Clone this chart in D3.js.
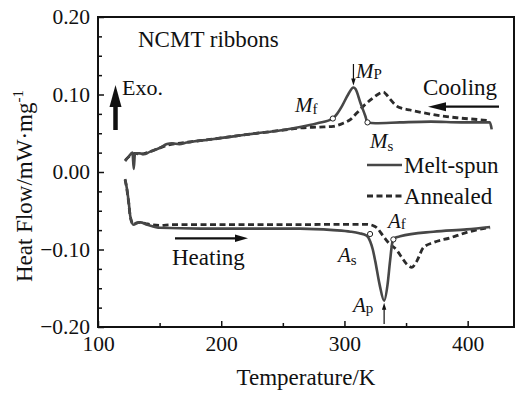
<!DOCTYPE html>
<html>
<head>
<meta charset="utf-8">
<script src="https://cdn.jsdelivr.net/npm/d3@7"></script>
<style>
  body { margin: 0; background: #fff; }
  svg { display: block; }
  text { font-family: "Liberation Serif", "Times New Roman", serif; fill: #111; }
</style>
</head>
<body>
<svg id="chart" width="517" height="393"></svg>
<script>
// axis ticks
const xTicks = [100, 200, 300, 400];
const xMinor = [150, 250, 350];
const yTicks = [-0.2, -0.1, 0, 0.1, 0.2];
const yMinor = [-0.175, -0.15, -0.125, -0.075, -0.05, -0.025, 0.025, 0.05, 0.075, 0.125, 0.15, 0.175];

const seriesNames = ["Melt-spun", "Annealed"];

// [temperature K, heat flow mW/mg]
const meltCooling = [
  [122, 0.014], [125, 0.020], [128, 0.025], [129, 0.004], [130, 0.024], [134, 0.024],
  [137, 0.023], [142, 0.026], [150, 0.031], [156, 0.036], [160, 0.037], [166, 0.036],
  [172, 0.038], [191, 0.042], [210, 0.046], [229, 0.050], [245, 0.053], [264, 0.058],
  [278, 0.063], [290.6, 0.069], [294, 0.075], [298, 0.085], [303, 0.100], [307.3, 0.109],
  [309, 0.107], [313, 0.089], [317, 0.072], [318.7, 0.064], [325, 0.063], [345, 0.064],
  [370, 0.065], [395, 0.064], [410, 0.064], [418, 0.064], [419.5, 0.055]
];
const annealCooling = [
  [122, 0.015], [126, 0.021], [130, 0.024], [135, 0.023], [142, 0.026], [150, 0.031],
  [157, 0.035], [165, 0.037], [175, 0.039], [191, 0.042], [210, 0.046], [229, 0.050],
  [250, 0.054], [265, 0.057], [280, 0.058], [291, 0.059], [299, 0.063], [305, 0.068],
  [310, 0.076], [315.4, 0.085], [323.5, 0.096], [328, 0.101], [331.6, 0.103], [334, 0.100],
  [337, 0.094], [342.5, 0.085], [347, 0.082], [353.3, 0.080], [362, 0.077], [372.2, 0.074],
  [391.2, 0.070], [412.7, 0.067], [418.2, 0.066]
];
const meltHeating = [
  [122, -0.009], [123.5, -0.022], [125, -0.040], [126.2, -0.057], [128.9, -0.068],
  [131, -0.066], [134.3, -0.065], [140, -0.068], [150.5, -0.072], [183, -0.073],
  [232, -0.073], [264, -0.073], [291, -0.075], [305, -0.077], [312, -0.079], [318, -0.082],
  [321, -0.090], [323, -0.100], [325, -0.115], [328.5, -0.145], [332.2, -0.166],
  [335, -0.145], [337, -0.115], [339, -0.090], [341, -0.085], [345.2, -0.083],
  [372.2, -0.077], [399.3, -0.074], [418.2, -0.071]
];
const annealHeating = [
  [122, -0.010], [123.5, -0.023], [125, -0.041], [126.2, -0.058], [128.9, -0.068],
  [131, -0.066], [134.3, -0.065], [140, -0.067], [150, -0.069], [160, -0.068],
  [200, -0.068], [250, -0.068], [300, -0.0675], [318, -0.0675], [323, -0.069],
  [326.3, -0.072], [331.6, -0.083], [335.6, -0.091], [342.5, -0.101], [346, -0.109],
  [350.6, -0.119], [354.7, -0.123], [358.7, -0.115], [364.1, -0.0975], [372.2, -0.091],
  [385.7, -0.085], [399.3, -0.078], [412.7, -0.073], [418.2, -0.072]
];

// transformation points
const transNames = ["Mf", "Ms", "As", "Af"];
const transPoints = [[290.6, 0.069], [318.7, 0.064], [320.8, -0.080], [339.7, -0.087]];
const peakM = [307.3, 0.109];
const peakA = [332.2, -0.166];

const width = 517, height = 393;
const margin = { top: 17, right: 3, bottom: 66, left: 98 };

const svg = d3.select("#chart");

const x = d3.scaleLinear()
  .domain([100, 437.6])
  .range([margin.left, width - margin.right]);
const y = d3.scaleLinear()
  .domain([-0.2, 0.2])
  .range([height - margin.bottom, margin.top]);

const fmt = d3.format(".2f");

// x axis
svg.append("g")
  .attr("transform", `translate(0,${height - margin.bottom})`)
  .call(d3.axisBottom(x).tickValues(xTicks).tickSize(-6).tickPadding(9).tickFormat(d3.format("d")))
  .call(g => g.select(".domain").remove())
  .call(g => g.selectAll("line").attr("stroke", "#111").attr("stroke-width", 1.5))
  .call(g => g.selectAll("text").style("font-size", "21.5px").attr("fill", "#111"));
svg.append("g")
  .attr("transform", `translate(0,${height - margin.bottom})`)
  .call(d3.axisBottom(x).tickValues(xMinor).tickSize(-4).tickFormat(""))
  .call(g => g.select(".domain").remove())
  .call(g => g.selectAll("line").attr("stroke", "#111").attr("stroke-width", 1.5));

// y axis
svg.append("g")
  .attr("transform", `translate(${margin.left},0)`)
  .call(d3.axisLeft(y).tickValues(yTicks).tickSize(-6).tickPadding(8).tickFormat(fmt))
  .call(g => g.select(".domain").remove())
  .call(g => g.selectAll("line").attr("stroke", "#111").attr("stroke-width", 1.5))
  .call(g => g.selectAll("text").style("font-size", "21.5px").attr("fill", "#111"));
svg.append("g")
  .attr("transform", `translate(${margin.left},0)`)
  .call(d3.axisLeft(y).tickValues(yMinor).tickSize(-4).tickFormat(""))
  .call(g => g.select(".domain").remove())
  .call(g => g.selectAll("line").attr("stroke", "#111").attr("stroke-width", 1.5));

// frame
svg.append("rect")
  .attr("x", margin.left).attr("y", margin.top)
  .attr("width", width - margin.left - margin.right)
  .attr("height", height - margin.top - margin.bottom)
  .attr("fill", "none").attr("stroke", "#111").attr("stroke-width", 2);

// curves
const line = d3.line()
  .x(d => x(d[0]))
  .y(d => y(d[1]))
  .curve(d3.curveMonotoneX);

const dashedStyle = { stroke: "#2b2b2b", width: 2.8, dash: "6,3.5" };
const solidStyle = { stroke: "#474747", width: 2.6, dash: null };

[annealCooling, annealHeating].forEach(data => {
  svg.append("path").datum(data)
    .attr("d", line).attr("fill", "none")
    .attr("stroke", dashedStyle.stroke).attr("stroke-width", dashedStyle.width)
    .attr("stroke-dasharray", dashedStyle.dash);
});
[meltCooling, meltHeating].forEach(data => {
  svg.append("path").datum(data)
    .attr("d", line).attr("fill", "none")
    .attr("stroke", solidStyle.stroke).attr("stroke-width", solidStyle.width)
    .attr("stroke-linejoin", "round");
});

// transformation markers
svg.selectAll(".tp")
  .data(transPoints)
  .enter()
  .append("circle")
  .attr("cx", d => x(d[0])).attr("cy", d => y(d[1]))
  .attr("r", 2.6)
  .attr("fill", "#fff").attr("stroke", "#222").attr("stroke-width", 1);

// annotation labels: italic letter + subscript
function label(px, py, main, sub, subDy) {
  const t = svg.append("text").attr("x", px).attr("y", py).style("font-size", "21px");
  t.append("tspan").style("font-style", "italic").text(main);
  t.append("tspan").attr("dy", subDy).style("font-size", "15px").text(sub);
}
label(356, 78, "M", "P", 1);
label(295, 112, "M", "f", 2);
label(370, 148, "M", "s", 3);
label(388, 228, "A", "f", 1);
label(338, 262, "A", "s", 3);
label(353, 312, "A", "p", 1);

// arrows
function arrowHead(tipX, tipY, dir, len, half) {
  let pts;
  if (dir === "up") pts = [[tipX, tipY], [tipX - half, tipY + len], [tipX + half, tipY + len]];
  if (dir === "down") pts = [[tipX, tipY], [tipX - half, tipY - len], [tipX + half, tipY - len]];
  if (dir === "left") pts = [[tipX, tipY], [tipX + len, tipY - half], [tipX + len, tipY + half]];
  if (dir === "right") pts = [[tipX, tipY], [tipX - len, tipY - half], [tipX - len, tipY + half]];
  svg.append("path").attr("d", "M" + pts.join("L") + "Z").attr("fill", "#111");
}

// Mp arrow
const mpX = x(peakM[0]);
svg.append("line").attr("x1", mpX).attr("x2", mpX).attr("y1", 64).attr("y2", 82)
  .attr("stroke", "#111").attr("stroke-width", 1.2);
arrowHead(mpX, y(peakM[1]) - 2, "down", 7, 2.2);

// Ap arrow
const apX = x(peakA[0]);
svg.append("line").attr("x1", apX).attr("x2", apX).attr("y1", 324).attr("y2", 308)
  .attr("stroke", "#111").attr("stroke-width", 1.2);
arrowHead(apX, y(peakA[1]) + 2, "up", 7, 2.2);

// Exo arrow
svg.append("line").attr("x1", 115.5).attr("x2", 115.5).attr("y1", 130).attr("y2", 104)
  .attr("stroke", "#111").attr("stroke-width", 4.5);
arrowHead(115.5, 85, "up", 22, 6);
svg.append("text").attr("x", 122).attr("y", 95).style("font-size", "22px").text("Exo.");

// Cooling arrow
svg.append("line").attr("x1", 499).attr("x2", 440).attr("y1", 106.7).attr("y2", 106.7)
  .attr("stroke", "#111").attr("stroke-width", 2.2);
arrowHead(428, 106.7, "left", 18, 4.5);
svg.append("text").attr("x", 423).attr("y", 95).style("font-size", "23px").text("Cooling");

// Heating arrow
svg.append("line").attr("x1", 175).attr("x2", 238).attr("y1", 238.3).attr("y2", 238.3)
  .attr("stroke", "#111").attr("stroke-width", 2.2);
arrowHead(248, 238.3, "right", 13, 3.8);
svg.append("text").attr("x", 172).attr("y", 265).style("font-size", "23px").text("Heating");

svg.append("text").attr("x", 138).attr("y", 47).style("font-size", "23px").text("NCMT ribbons");

// legend
const legend = svg.append("g");
seriesNames.forEach((name, i) => {
  const ly = 165 + i * 31;
  const st = i === 0 ? solidStyle : dashedStyle;
  legend.append("line").attr("x1", 367).attr("x2", 402).attr("y1", ly).attr("y2", ly)
    .attr("stroke", st.stroke).attr("stroke-width", st.width)
    .attr("stroke-dasharray", st.dash);
  legend.append("text").attr("x", 404).attr("y", ly + 8).style("font-size", "23px").text(name);
});

// axis titles
svg.append("text")
  .attr("x", (margin.left + width - margin.right) / 2).attr("y", 385)
  .attr("text-anchor", "middle").style("font-size", "23px")
  .text("Temperature/K");

const yt = svg.append("text")
  .attr("transform", "translate(32,186) rotate(-90)")
  .attr("text-anchor", "middle").style("font-size", "23px");
yt.append("tspan").text("Heat Flow/mW·mg");
yt.append("tspan").attr("dy", -9).style("font-size", "15px").text("-1");
</script>
</body>
</html>
